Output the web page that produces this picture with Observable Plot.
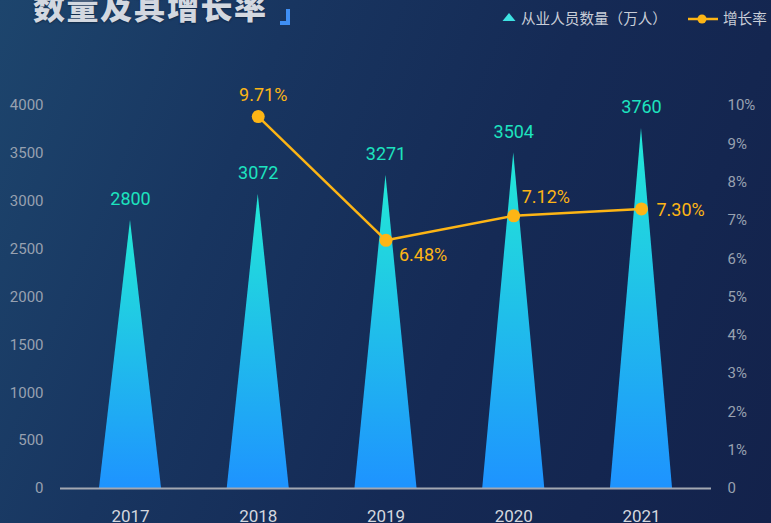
<!DOCTYPE html>
<html>
<head>
<meta charset="utf-8">
<script src="https://cdn.jsdelivr.net/npm/d3@7"></script>
<script src="https://cdn.jsdelivr.net/npm/@observablehq/plot@0.6"></script>
<style>
  html, body { margin: 0; padding: 0; }
  body { width: 771px; height: 523px; overflow: hidden; }
  #wrap {
    position: relative; width: 771px; height: 523px; overflow: hidden;
    background: linear-gradient(112deg, #1d456d 0%, #183560 30%, #152a55 60%, #13224b 100%);
    font-family: "Noto Sans CJK SC", "Noto Sans", sans-serif;
  }
  #title {
    position: absolute; left: 33px; top: -17px; font-size: 32px; font-weight: 900;
    color: #d3d8e0; letter-spacing: 1.5px; white-space: nowrap; line-height: 44px;
    text-shadow: 0 1px 2px rgba(0,0,0,0.35);
  }
  #bracket {
    position: absolute; left: 280px; top: 9px; width: 6px; height: 12px;
    border-right: 4px solid #3f8ff5; border-bottom: 4px solid #3f8ff5;
  }
  .leg { position: absolute; top: 8px; font-size: 14.6px; color: #c9ced8; white-space: nowrap; line-height: 20px; }
  #chart { position: absolute; left: 0; top: 0; }
</style>
</head>
<body>
<div id="wrap">
  <div id="title">数量及其增长率</div>
  <div id="bracket"></div>
  <svg style="position:absolute;left:502px;top:12px" width="14" height="10"><polygon points="7,1 13.5,9 0.5,9" fill="#3ee2e2"/></svg>
  <div class="leg" style="left:521px">从业人员数量（万人）</div>
  <svg style="position:absolute;left:688px;top:13px" width="30" height="12"><line x1="0" y1="6" x2="30" y2="6" stroke="#fdb515" stroke-width="2.5"/><circle cx="14" cy="6" r="4.5" fill="#fdb515"/></svg>
  <div class="leg" style="left:723px">增长率</div>
  <div id="chart"></div>
</div>
<script>
const years = [2017, 2018, 2019, 2020, 2021];
const workers = [2800, 3072, 3271, 3504, 3760];
const growth = [null, 9.71, 6.48, 7.12, 7.30];
const leftTicks = [0, 500, 1000, 1500, 2000, 2500, 3000, 3500, 4000];
const rightTicks = [0, 1, 2, 3, 4, 5, 6, 7, 8, 9, 10];

const K = 400; // 1% on the right axis == 400 on the left axis
const halfW = 0.243;

const bars = years.map((y, i) => ({year: y, value: workers[i]}));
const rates = years.map((y, i) => ({year: y, rate: growth[i]})).filter(d => d.rate != null);
const tri = bars.flatMap(d => [
  {year: d.year, x: d.year - halfW, y: 0},
  {year: d.year, x: d.year, y: d.value},
  {year: d.year, x: d.year + halfW, y: 0}
]);

const orange = "#fdb515";
const teal = "#1de3bf";
const fmt = d => d.rate.toFixed(2) + "%";
const rateLabel = (yr, opts) => Plot.text(rates.filter(d => d.year === yr), {
  x: "year", y: d => d.rate * K, text: fmt, fill: orange, fontSize: 18, ...opts
});

const chart = Plot.plot({
  width: 771,
  height: 523,
  marginTop: 105,
  marginBottom: 35,
  marginLeft: 60,
  marginRight: 60,
  style: {background: "transparent", fontFamily: "Roboto, 'Noto Sans CJK SC', sans-serif", overflow: "visible"},
  x: {type: "linear", domain: [2016.452, 2021.548]},
  y: {domain: [0, 4000]},
  marks: [
    Plot.areaY(tri, {x: "x", y: "y", z: "year", fill: "url(#triGrad)", curve: "linear"}),
    Plot.ruleY([0], {stroke: "#a3a8b2", strokeWidth: 2}),
    Plot.axisY({anchor: "left", ticks: leftTicks, tickFormat: "d", tickSize: 0, tickPadding: 17, fontSize: 15, fill: "#98a1b0", label: null}),
    Plot.axisY({anchor: "right", ticks: rightTicks.map(t => t * K), tickFormat: d => d === 0 ? "0" : (d / K) + "%", tickSize: 0, tickPadding: 16, fontSize: 15, fill: "#98a1b0", label: null}),
    Plot.axisX({ticks: years, tickFormat: "d", tickSize: 0, tickPadding: 21, fontSize: 17, fill: "#d3d7df", label: null}),
    Plot.text(bars, {x: "year", y: "value", text: d => String(d.value), dy: -21, fill: teal, fontSize: 18}),
    Plot.line(rates, {x: "year", y: d => d.rate * K, stroke: orange, strokeWidth: 2.5}),
    Plot.dot(rates, {x: "year", y: d => d.rate * K, r: 6.5, fill: orange}),
    rateLabel(2018, {dx: 5, dy: -21}),
    rateLabel(2019, {dx: 13, dy: 15, textAnchor: "start"}),
    rateLabel(2020, {dx: 8, dy: -19, textAnchor: "start"}),
    rateLabel(2021, {dx: 15, dy: 1, textAnchor: "start"})
  ]
});

const defs = d3.select(chart).insert("defs", ":first-child");
const g = defs.append("linearGradient").attr("id", "triGrad")
  .attr("x1", 0).attr("y1", 0).attr("x2", 0).attr("y2", 1);
g.append("stop").attr("offset", "0%").attr("stop-color", "#22e8d6");
g.append("stop").attr("offset", "100%").attr("stop-color", "#1e93ff");

document.getElementById("chart").appendChild(chart);
</script>
</body>
</html>
